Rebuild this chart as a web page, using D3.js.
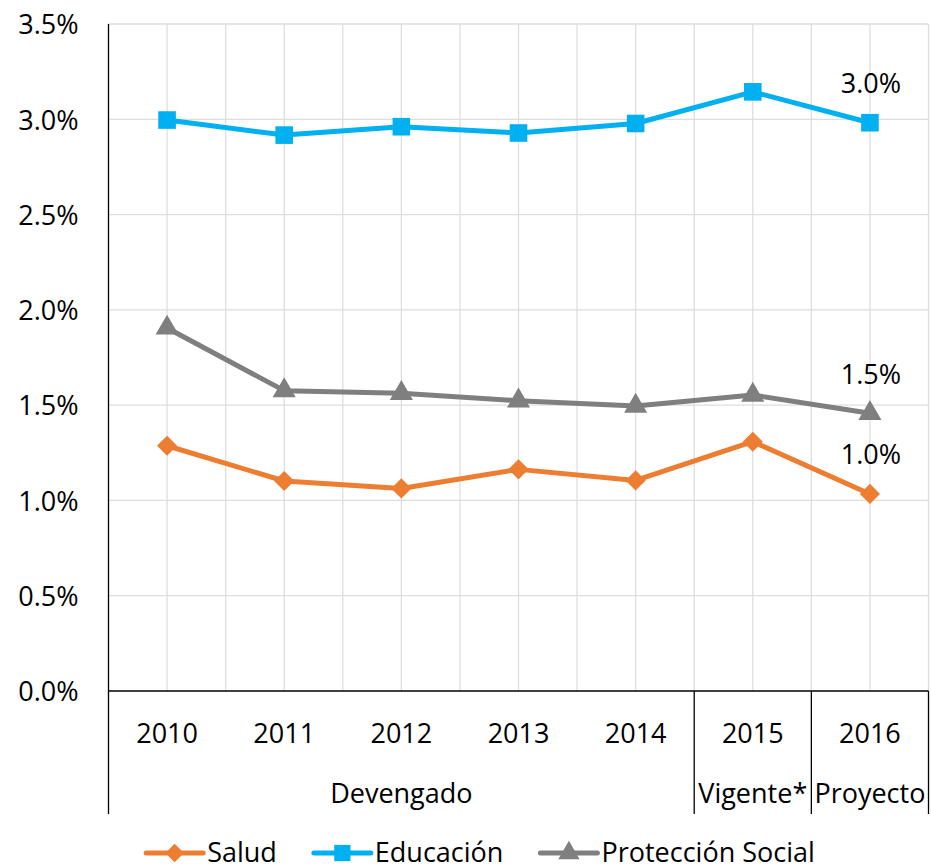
<!DOCTYPE html>
<html><head><meta charset="utf-8">
<script src="https://cdn.jsdelivr.net/npm/d3@7/dist/d3.min.js"></script>
<style>
html,body{margin:0;padding:0;background:#fff;}
text{font-family:"Open Sans","Noto Sans",sans-serif;fill:#000;}
</style></head>
<body><svg id="c" width="931" height="866"></svg>
<script>
const years = ["2010","2011","2012","2013","2014","2015","2016"];
const groupNames = ["Devengado","Vigente*","Proyecto"];
const groupSizes = [5,1,1];
const salud = [0.01287,0.01102,0.01063,0.01163,0.01105,0.01308,0.01034];
const educacion = [0.02996,0.02917,0.02961,0.02928,0.02978,0.03144,0.02982];
const proteccion = [0.01905,0.01576,0.01562,0.01523,0.01495,0.01553,0.01457];
const seriesNames = ["Salud","Educación","Protección Social"];
const yTicks = [0,0.005,0.01,0.015,0.02,0.025,0.03,0.035];

const colors = ["#ED7D31","#00B0F0","#7F7F7F"];
const symbols = [d3.symbolDiamond2 || d3.symbolDiamond, d3.symbolSquare, d3.symbolTriangle];
const series = [salud, educacion, proteccion];

const svg = d3.select("#c");
const L = 108.5, R = 928.5, T = 24, B = 691, catBottom = 814;
const x = d3.scaleBand().domain(years).range([L, R]).padding(0);
const y = d3.scaleLinear().domain([0, 0.035]).range([B, T]);
const cx = d => x(d) + x.bandwidth()/2;

// gridlines
const grid = svg.append("g").attr("stroke","#dedede").attr("stroke-width",1.3);
yTicks.filter(t=>t>0).forEach(t=>{
  grid.append("line").attr("x1",L).attr("x2",R).attr("y1",y(t)).attr("y2",y(t));
});
years.forEach((d,i)=>{
  grid.append("line").attr("x1",cx(d)).attr("x2",cx(d)).attr("y1",T).attr("y2",B);
  grid.append("line").attr("x1",x(d)+x.bandwidth()).attr("x2",x(d)+x.bandwidth()).attr("y1",T).attr("y2",B);
});

// y axis labels
const yAxis = d3.axisLeft(y).tickValues(yTicks).tickFormat(d3.format(".1%")).tickSize(0).tickPadding(30);
const ya = svg.append("g").attr("transform",`translate(${L},0)`).call(yAxis);
ya.select(".domain").remove();
ya.selectAll("text").style("font-size","27px").style("font-family","'Open Sans'").attr("dy","0.36em");

// axis lines
const ax = svg.append("g").attr("stroke","#000").attr("stroke-width",1.3);
ax.append("line").attr("x1",L).attr("x2",L).attr("y1",T).attr("y2",catBottom);
ax.append("line").attr("x1",L).attr("x2",R).attr("y1",B).attr("y2",B);
ax.append("line").attr("x1",R).attr("x2",R).attr("y1",B).attr("y2",catBottom);
let idx = 0;
groupSizes.forEach((n,gi)=>{
  const start = years[idx], end = years[idx+n-1];
  const x0 = x(start), x1 = x(end)+x.bandwidth();
  if (gi>0) ax.append("line").attr("x1",x0).attr("x2",x0).attr("y1",B).attr("y2",catBottom);
  svg.append("text").attr("x",(x0+x1)/2).attr("y",803).attr("text-anchor","middle")
    .style("font-size","27px").text(groupNames[gi]);
  idx += n;
});
// x year labels
const xAxis = d3.axisBottom(x).tickSize(0).tickPadding(0);
const xa = svg.append("g").attr("transform",`translate(0,${B})`).call(xAxis);
xa.select(".domain").remove();
xa.selectAll("text").style("font-size","27px").style("font-family","'Open Sans'").attr("y",52).attr("dy",0);

// lines and markers
const line = d3.line().x((d,i)=>cx(years[i])).y(d=>y(d));
const markerSizes = [260, 310, 230];
series.forEach((s,si)=>{
  svg.append("path").datum(s).attr("d",line).attr("fill","none")
    .attr("stroke",colors[si]).attr("stroke-width",5).attr("stroke-linejoin","round");
  svg.append("g").selectAll("path").data(s).join("path")
    .attr("transform",(d,i)=>`translate(${cx(years[i])},${y(d)})`)
    .attr("d", d3.symbol().type(symbols[si]).size(markerSizes[si]))
    .attr("fill",colors[si]);
  // last value label
  const last = s[s.length-1];
  svg.append("text").attr("x",cx(years[years.length-1])+1).attr("y",y(last)-29.5)
    .attr("text-anchor","middle").style("font-size","27px").text(d3.format(".1%")(last));
});

// legend
const lg = svg.append("g");
const lineLen = 57, gapText = 4, gapItem = 37, ly = 853;
const items = seriesNames.map((n,i)=>{
  const g = lg.append("g");
  g.append("line").attr("x1",0).attr("x2",lineLen).attr("y1",ly).attr("y2",ly)
    .attr("stroke",colors[i]).attr("stroke-width",5).attr("stroke-linecap","round");
  g.append("path").attr("transform",`translate(${lineLen/2},${ly})`)
    .attr("d", d3.symbol().type(symbols[i]).size(markerSizes[i]*0.85)).attr("fill",colors[i]);
  const t = g.append("text").attr("x",lineLen+gapText).attr("y",862).style("font-size","27px").text(n);
  return {g, w: lineLen+gapText+t.node().getComputedTextLength()};
});
const total = d3.sum(items, d=>d.w) + gapItem*(items.length-1);
let lx = 480.5 - total/2;
items.forEach(it=>{ it.g.attr("transform",`translate(${lx},0)`); lx += it.w + gapItem; });
</script></body></html>
